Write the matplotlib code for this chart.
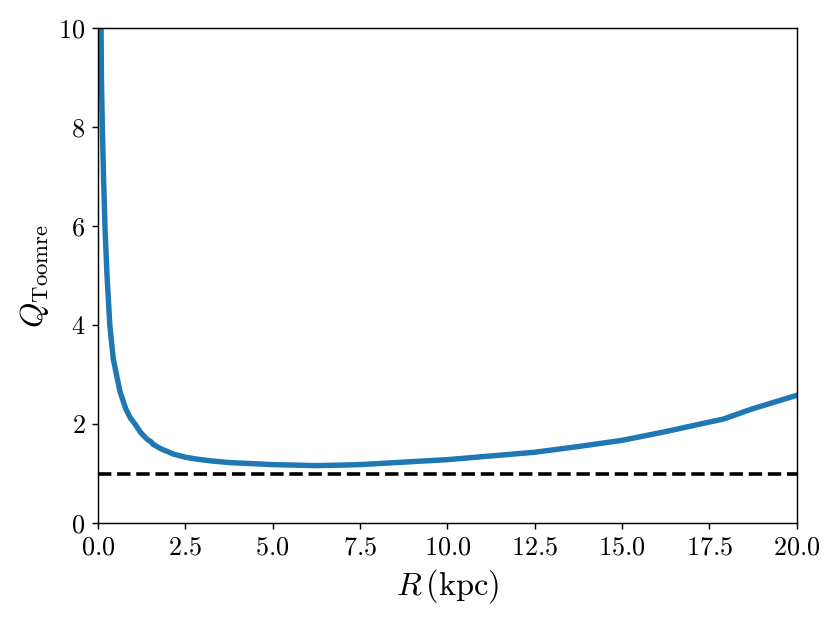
import matplotlib
matplotlib.use("Agg")
import matplotlib.pyplot as plt

plt.rcParams['mathtext.fontset'] = 'cm'
plt.rcParams['font.family'] = 'serif'
plt.rcParams['font.serif'] = ['cmr10']
plt.rcParams['axes.formatter.use_mathtext'] = True

R = [0.085, 0.10, 0.125, 0.16, 0.20, 0.26, 0.34, 0.44, 0.55, 0.63, 0.8, 0.93,
     1.06, 1.22, 1.41, 1.52, 1.58, 1.8, 2.17, 2.5, 2.83, 3.3, 3.78, 4.4, 5.0, 5.6,
     6.2, 7.0, 7.5, 8.5, 10.0, 11.0, 12.5, 13.7, 15.0, 16.2, 17.5, 17.9, 18.7, 20.0]
Q = [10.5, 9.0, 8.0, 7.0, 6.0, 5.0, 4.0, 3.31, 2.93, 2.66, 2.3, 2.12,
     2.0, 1.83, 1.69, 1.64, 1.59, 1.5, 1.39, 1.33, 1.29, 1.25, 1.22, 1.20, 1.18, 1.17,
     1.16, 1.17, 1.18, 1.22, 1.28, 1.34, 1.43, 1.54, 1.67, 1.84, 2.04, 2.1, 2.3, 2.58]
Q_crit = 1.0
x_range = [0, 20]

fig = plt.figure(figsize=(830/130, 623/130), dpi=130)
ax = fig.add_axes([0.118, 0.1605, 0.842, 0.7945])
ax.plot(R, Q, color='#1f77b4', lw=3)
ax.axhline(Q_crit, color='black', ls='--', lw=2)
ax.set_xlim(x_range)
ax.set_ylim(0, 10)
ax.tick_params(labelsize=14.5)
ax.set_xlabel(r'$R\,(\mathrm{kpc})$', fontsize=18)
ax.set_ylabel(r'$Q_{\rm Toomre}$', fontsize=18)
fig.savefig('out.png', dpi=130)
